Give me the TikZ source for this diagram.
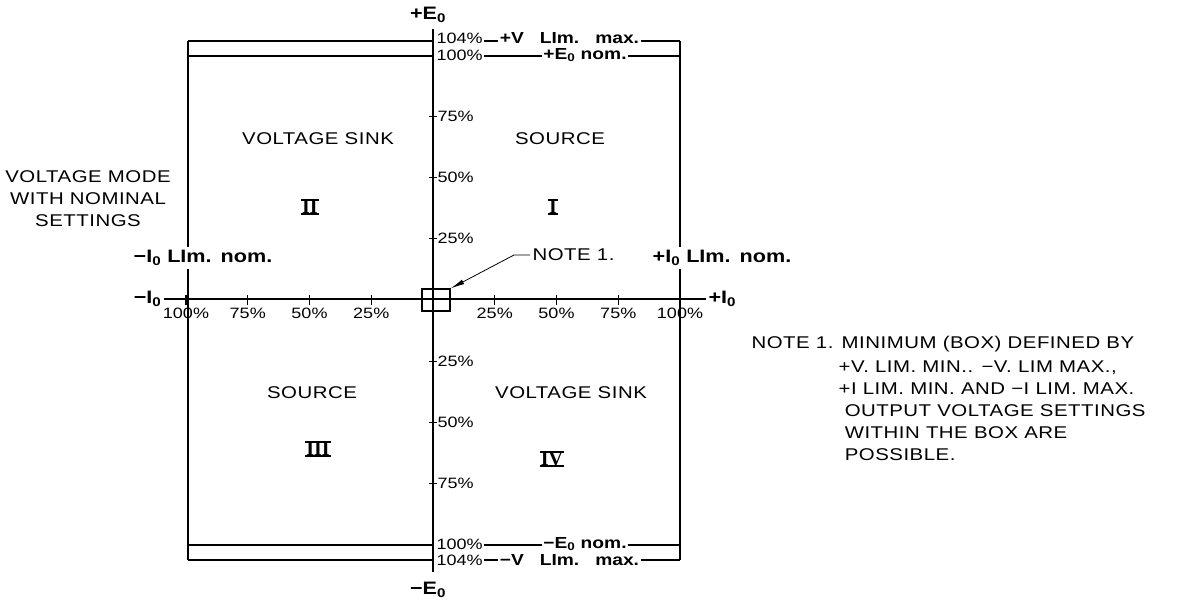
\documentclass[tikz,border=0pt]{standalone}
\usepackage{fontspec}
\setmainfont{Liberation Sans}[FakeStretch=1.2]
\newfontfamily\romfont{Liberation Serif}
\usetikzlibrary{arrows.meta,positioning,calc}

\begin{document}
\begin{tikzpicture}[x=1pt,y=-1pt,line width=1.2pt,inner sep=2pt,
  txt/.style={font=\fontsize{17}{22}\selectfont\addfontfeature{LetterSpace=3}},
  pct/.style={font=\fontsize{15}{16}\selectfont,inner sep=1pt},
  lim/.style={font=\fontsize{18}{20}\selectfont\bfseries},
  limrow/.style={font=\fontsize{16}{18}\selectfont\bfseries,inner sep=1pt},
  rom/.style={font=\romfont\fontsize{20}{22}\selectfont\bfseries,
    inner xsep=0.5pt,inner ysep=0pt,text height=13.2pt,text depth=0pt},
  blank/.style={fill=white,inner sep=3pt}]
  \useasboundingbox (0,0) rectangle (1179,603);
  \coordinate (O) at (433,300);
  \coordinate (top) at (433,29);
  \coordinate (bot) at (433,572);
  \coordinate (tl) at (188,41);
  \coordinate (tl2) at (188,56);
  \coordinate (bl2) at (188,545);
  \coordinate (bl) at (188,560);
  \coordinate (tr) at (680,41);
  \coordinate (br) at (680,560);
  \node [lim] (pE) at (428,15) {+E\textsubscript{0}};
  \node [lim] (mE) at (428,590) {−E\textsubscript{0}};
  \node [lim,anchor=east] (mI) at (164,299) {−I\textsubscript{0}};
  \node [lim,anchor=west] (pI) at (706,299) {+I\textsubscript{0}};
  \draw (top) -- (bot);
  \draw (mI) -- (pI);
  \draw (tl) -- (tl -| O);
  \draw (tl2) -- (tl2 -| O);
  \draw (bl2) -- (bl2 -| O);
  \draw (bl) -- (bl -| O);
  \draw (tl) -- (bl);
  \draw (tr) -- (br);
  \foreach \k/\t in {1/25,2/50,3/75,4/100} {
    \draw ($(O)+(61.75*\k,-5)$) -- ++(0,10);
    \draw ($(O)+(-61.75*\k,-5)$) -- ++(0,10);
    \node [pct,anchor=north] (hr\k) at ($(O)+(61.75*\k,6)$) {\t\%};
    \node [pct,anchor=north] (hl\k) at ($(O)+(-61.75*\k,6)$) {\t\%};
  }
  \foreach \k/\t in {1/25,2/50,3/75} {
    \draw ($(O)+(-4,-61.25*\k)$) -- ++(8,0);
    \draw ($(O)+(-4,61.25*\k)$) -- ++(8,0);
    \node [pct,anchor=west] (vu\k) at ($(O)+(3,-61.25*\k)$) {\t\%};
    \node [pct,anchor=west] (vd\k) at ($(O)+(3,61.25*\k)$) {\t\%};
  }
  \node [pct,anchor=west] (p104t) at (435,38) {104\%};
  \node [limrow,right=14pt of p104t] (vmaxt) {+V\quad LIm.\quad max.};
  \draw (p104t.east |- tr) -- (vmaxt.west |- tr);
  \draw (vmaxt.east |- tr) -- (tr);
  \node [pct,anchor=west] (p100t) at (435,55) {100\%};
  \node [limrow] (enomt) at (585,55) {+E\textsubscript{0} nom.};
  \draw (p100t.east |- tl2) -- (enomt.west |- tl2);
  \draw (enomt.east |- tl2) -- (tl2 -| tr);
  \node [pct,anchor=west] (p100b) at (435,544) {100\%};
  \node [limrow] (enomb) at (585,544) {−E\textsubscript{0} nom.};
  \draw (p100b.east |- bl2) -- (enomb.west |- bl2);
  \draw (enomb.east |- bl2) -- (bl2 -| br);
  \node [pct,anchor=west] (p104b) at (435,560) {104\%};
  \node [limrow,right=14pt of p104b] (vmaxb) {−V\quad LIm.\quad max.};
  \draw (p104b.east |- br) -- (vmaxb.west |- br);
  \draw (vmaxb.east |- br) -- (br);
  \node [lim,blank] (mInom) at (203,258) {−I\textsubscript{0} LIm.\enspace nom.};
  \node [lim,blank] (pInom) at (722,258) {+I\textsubscript{0} LIm.\enspace nom.};
  \node [txt] (vsink2) at (318,139) {VOLTAGE SINK};
  \node [txt] (src1) at (560,139) {SOURCE};
  \node [txt] (src3) at (312,393) {SOURCE};
  \node [txt] (vsink4) at (571,393) {VOLTAGE SINK};
  \node [rom] (q2) at (310,207) {II};
  \node [rom] (q1) at (553,207) {I};
  \node [rom] (q3) at (318,449) {III};
  \node [rom] (q4) at (552,459) {IV};
  \foreach \q in {q1,q2,q3,q4}
    \draw [line width=1.6pt] (\q.north west) -- (\q.north east) (\q.south west) -- (\q.south east);
  \node [txt,align=center] (vmode) at (88,199) {VOLTAGE MODE\\WITH NOMINAL\\SETTINGS};
  \node [draw,minimum width=28pt,minimum height=22pt,inner sep=0pt] (minbox) at (436,300) {};
  \node [txt,anchor=west] (note) at (530,255) {NOTE 1.};
  \coordinate [left=16pt of note.west] (knee);
  \draw [line width=0.8pt,-{Latex[length=14pt,width=5pt]}] (note.west) -- (knee) -- (minbox.north east);
  \node [txt,anchor=west] (note1) at (749,344) {NOTE 1. MINIMUM (BOX) DEFINED BY};
  \node [txt,align=left,below right=4pt and 87pt of note1.south west] (note2)
    {+V. LIM. MIN.. −V. LIM MAX.,\\+I LIM. MIN. AND −I LIM. MAX.\\\ OUTPUT VOLTAGE SETTINGS\\\ WITHIN THE BOX ARE\\\ POSSIBLE.};
\end{tikzpicture}
\end{document}
